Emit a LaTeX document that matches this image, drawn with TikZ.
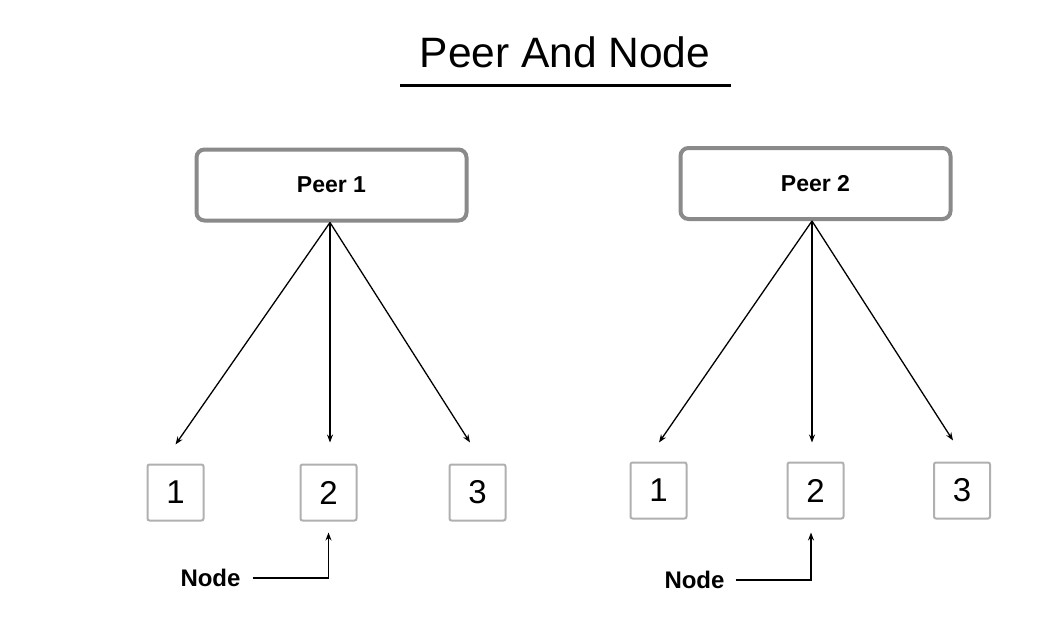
\documentclass[tikz,border=0pt]{standalone}
\usepackage{fontspec}
\setmainfont{Liberation Sans}
\usetikzlibrary{calc,arrows.meta}
\definecolor{peergray}{HTML}{8A8A8A}
\definecolor{boxgray}{HTML}{B0B0B0}
\begin{document}
\begin{tikzpicture}[x=1pt,y=-1pt,
  peerbox/.style={draw=peergray,line width=4pt,rounded corners=8pt,minimum width=270pt,minimum height=71pt,inner sep=0pt,font=\fontsize{23}{27}\selectfont\bfseries},
  numbox/.style={draw=boxgray,line width=2pt,rounded corners=2pt,minimum width=56pt,minimum height=56pt,inner sep=0pt,font=\fontsize{33}{38}\selectfont},
  lbl/.style={inner sep=0pt,font=\fontsize{24}{28}\selectfont\bfseries},
  arr/.style={line width=1.3pt,-{Stealth[length=8pt,width=6pt]}}
]
\useasboundingbox[fill=white] (0,0) rectangle (1042,640);
% title
\node[inner sep=0pt,font=\fontsize{42.5}{48}\selectfont] (title) at (565,52) {Peer And Node};
\coordinate (ul1) at (400,85);
\coordinate (ul2) at (731,85);
\draw[line width=3pt] (ul1) -- (ul2);
% peers
\node[peerbox] (p1) at (331.5,185) {Peer 1};
\node[peerbox] (p2) at (815.5,183.5) {Peer 2};
% number boxes
\node[numbox] (a1) at (175.5,492.5) {1};
\node[numbox] (a2) at (328.5,492.5) {2};
\node[numbox] (a3) at (477.5,492.5) {3};
\node[numbox] (b1) at (658.5,490.5) {1};
\node[numbox] (b2) at (815.5,490.5) {2};
\node[numbox] (b3) at (962,490.5) {3};
% arrows from peers
\coordinate (s1) at ($(p1.south)+(-1.5,0)$);
\coordinate (s2) at ($(p2.south)+(-3.5,0)$);
\draw[arr] (s1) -- ($(a1.north)+(0,-19)$);
\draw[arr] (s1) -- ($(a2.north)+(1.5,-21)$);
\draw[arr] (s1) -- ($(a3.north)+(-7.5,-21)$);
\draw[arr] (s2) -- ($(b1.north)+(0.5,-19)$);
\draw[arr] (s2) -- ($(b2.north)+(-3.5,-19)$);
\draw[arr] (s2) -- ($(b3.north)+(-9,-21)$);
% node labels
\node[lbl] (n1) at (210.5,578) {Node};
\node[lbl] (n2) at (694.5,580) {Node};
\draw[arr] ($(n1.east)+(12,0)$) -| ($(a2.south)+(0,11)$);
\draw[arr] ($(n2.east)+(11,0)$) -| ($(b2.south)+(-4.5,13)$);
\end{tikzpicture}
\end{document}
